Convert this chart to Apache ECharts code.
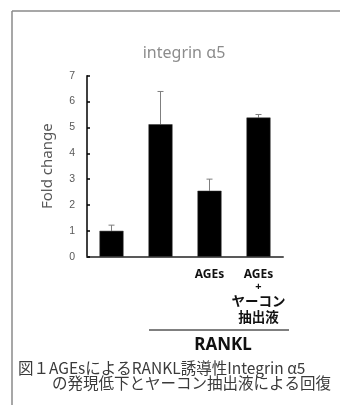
<!DOCTYPE html>
<html><head><meta charset="utf-8">
<script src="https://cdn.jsdelivr.net/npm/echarts@6/dist/echarts.min.js"></script>
<style>html,body{margin:0;padding:0;background:#fff}#c{width:340px;height:405px}</style>
</head><body><div id="c"></div>
<script>
var categories = ["", "", "AGEs", "AGEs\n+\nヤーコン\n抽出液"];
var foldChange = [1.0, 5.12, 2.55, 5.38];
var errorUp = [0.22, 1.27, 0.45, 0.12];
var yTicks = [0, 7, 1];
var titleText = "integrin \u03b15";
var groupLabel = "RANKL";
var caption1 = "図１AGEsによるRANKL誘導性Integrin \u03b15";
var caption2 = "の発現低下とヤーコン抽出液による回復";

var chart = echarts.init(document.getElementById('c'));
var errData = foldChange.map(function (v, i) { return [i, v, v + errorUp[i]]; });
chart.setOption({
  animation: false,
  backgroundColor: '#fff',
  title: {
    text: titleText, left: 179, top: 40, textAlign: 'center',
    textStyle: { color: '#8c8c8c', fontSize: 16, fontWeight: 'normal', fontFamily: 'Noto Sans' }
  },
  grid: { left: 87, right: 57, top: 75.7, bottom: 148.3 },
  xAxis: {
    type: 'category', data: categories,
    axisLine: { lineStyle: { color: '#595959', width: 2 } },
    axisTick: { show: false },
    axisLabel: {
      interval: 0, margin: 12,
      formatter: function (v) {
        return v.split('\n').map(function (line) {
          if (line === '+') return '{p|+}';
          if (/^[A-Za-z]+$/.test(line)) return '{a|' + line + '}';
          return '{c|' + line + '}';
        }).join('\n');
      },
      rich: {
        a: { color: '#111', fontSize: 12, fontWeight: 'bold', lineHeight: 12, fontFamily: 'Noto Sans' },
        p: { color: '#111', fontSize: 11, fontWeight: 'bold', lineHeight: 12, fontFamily: 'Noto Sans' },
        c: { color: '#111', fontSize: 13.5, fontWeight: 'bold', lineHeight: 16, fontFamily: 'Noto Sans CJK JP' }
      }
    }
  },
  yAxis: {
    type: 'value', min: yTicks[0], max: yTicks[1], interval: yTicks[2],
    name: 'Fold change', nameLocation: 'middle', nameGap: 32,
    nameTextStyle: { color: '#595959', fontSize: 15, fontFamily: 'Noto Sans' },
    splitLine: { show: false },
    axisLine: { show: true, lineStyle: { color: '#000', width: 1.5 } },
    axisTick: { show: true, inside: true, length: 3, lineStyle: { color: '#000', width: 1.5 } },
    axisLabel: { color: '#595959', fontSize: 10.5, margin: 12, fontFamily: 'Liberation Sans' }
  },
  series: [{
    type: 'bar', data: foldChange, barWidth: 24,
    itemStyle: { color: '#000', borderColor: '#333', borderWidth: 0.5 }
  }, {
    type: 'custom', data: errData, z: 1,
    renderItem: function (params, api) {
      var lo = api.coord([api.value(0), api.value(1)]);
      var hi = api.coord([api.value(0), api.value(2)]);
      var s = { stroke: '#7f7f7f', lineWidth: 1 };
      return { type: 'group', children: [
        { type: 'line', shape: { x1: lo[0], y1: lo[1], x2: hi[0], y2: hi[1] }, style: s },
        { type: 'line', shape: { x1: hi[0] - 3, y1: hi[1], x2: hi[0] + 3, y2: hi[1] }, style: s }
      ]};
    }
  }],
  graphic: [
    { type: 'line', shape: { x1: 12, y1: 11, x2: 340, y2: 11 }, style: { stroke: '#8a8a8a', lineWidth: 1.5 } },
    { type: 'line', shape: { x1: 12, y1: 11, x2: 12, y2: 405 }, style: { stroke: '#8a8a8a', lineWidth: 1.5 } },
    { type: 'line', shape: { x1: 149, y1: 330, x2: 289, y2: 330 }, style: { stroke: '#000', lineWidth: 1 } },
    { type: 'text', x: 223, y: 345, style: { text: groupLabel, fill: '#111', font: 'bold 17px "Noto Sans"', textAlign: 'center', textVerticalAlign: 'middle' } },
    { type: 'text', x: 18, y: 368, style: { text: caption1, fill: '#3a3a3a', font: '15.5px "Noto Sans CJK JP"', textAlign: 'left', textVerticalAlign: 'middle' } },
    { type: 'text', x: 52, y: 383, style: { text: caption2, fill: '#3a3a3a', font: '15.5px "Noto Sans CJK JP"', textAlign: 'left', textVerticalAlign: 'middle' } }
  ]
});
</script></body></html>
